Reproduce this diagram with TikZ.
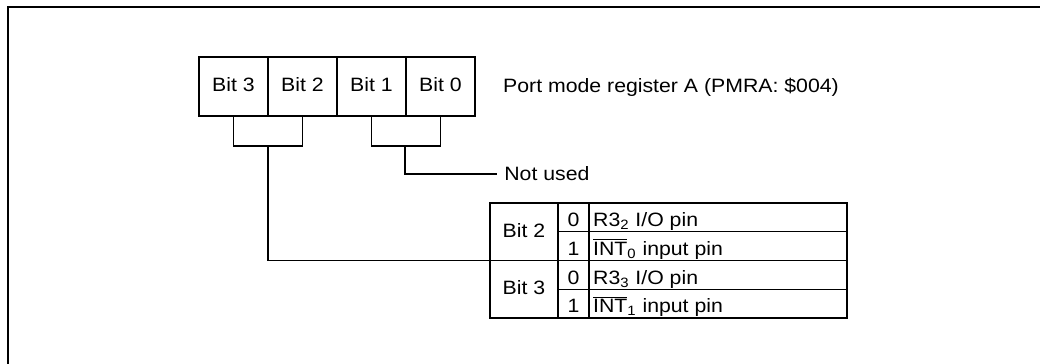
\documentclass[tikz,border=0pt]{standalone}
\usepackage{fontspec}
\setmainfont{Liberation Sans}[FakeStretch=1.1]
\usetikzlibrary{positioning}
\begin{document}
\begin{tikzpicture}[x=0.02cm,y=-0.02cm,
        font=\fontsize{11}{13}\selectfont,
        cell/.style={draw, line width=0.8pt, inner sep=0pt, outer sep=0pt, text height=1.6ex, text depth=0.45ex},
        bitbox/.style={cell, minimum width=1.38cm, minimum height=1.18cm},
        grpcell/.style={cell, minimum width=1.36cm, minimum height=1.15cm},
        rowcell/.style={cell, minimum height=0.575cm, text height=2.2ex, text depth=0.2ex},
        valcell/.style={rowcell, minimum width=0.62cm},
        desccell/.style={rowcell, minimum width=5.16cm},
        link/.style={line width=0.6pt}]
        \useasboundingbox (0,0) rectangle (1040,364);
        % frame
        \draw[line width=1.3pt] (8,364) -- (8,7) -- (1040,7);
        % register
        \node[bitbox] (b3) at (233.5,86.5) {Bit 3};
        \node[bitbox, right=0pt of b3] (b2) {Bit 2};
        \node[bitbox, right=0pt of b2] (b1) {Bit 1};
        \node[bitbox, right=0pt of b1] (b0) {Bit 0};
        \node[anchor=west] (pmra) at (497,87) {Port mode register A (PMRA: \$004)};
        % table
        \node[grpcell] (g2) at (524,231.75) {Bit 2};
        \node[grpcell, below=0pt of g2] (g3) {Bit 3};
        \node[valcell, anchor=north west] (v20) at (g2.north east) {0};
        \node[valcell, below=0pt of v20] (v21) {1};
        \node[valcell, below=0pt of v21] (v30) {0};
        \node[valcell, below=0pt of v30] (v31) {1};
        \node[desccell, right=0pt of v20] (d20) {\makebox[142pt][l]{R3\textsubscript{2} I/O pin}};
        \node[desccell, right=0pt of v21] (d21) {\makebox[142pt][l]{$\overline{\mbox{INT}}$\textsubscript{0} input pin}};
        \node[desccell, right=0pt of v30] (d30) {\makebox[142pt][l]{R3\textsubscript{3} I/O pin}};
        \node[desccell, right=0pt of v31] (d31) {\makebox[142pt][l]{$\overline{\mbox{INT}}$\textsubscript{1} input pin}};
        % brackets
        \coordinate (J) at (268,146);
        \coordinate (K) at (405,146);
        \draw[link] (b3.south) |- (J) -| (b2.south);
        \draw[link] (b1.south) |- (K) -| (b0.south);
        \node[anchor=west, inner sep=4pt] (nu) at (497,174) {Not used};
        \draw[link] (K) |- (nu.west);
        \draw[link] (J) |- (g2.south west);
\end{tikzpicture}
\end{document}
